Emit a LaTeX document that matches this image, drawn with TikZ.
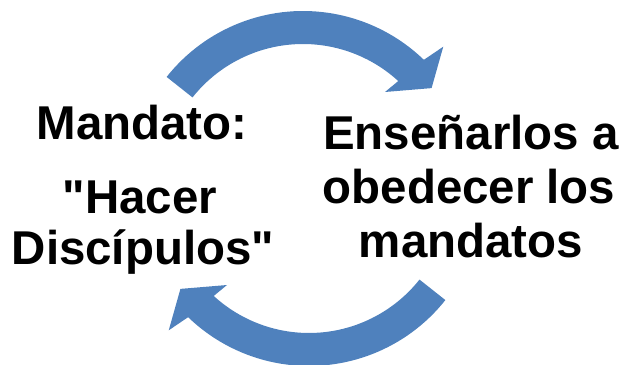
\documentclass[tikz,border=0pt]{standalone}
\usepackage{fontspec}
\setmainfont{Liberation Sans}
\usepackage{tikz}
\usetikzlibrary{positioning}
\definecolor{officeblue}{RGB}{79,129,189}
\tikzset{
      cyclearrow/.style = {fill=officeblue, draw=none},
      word node/.style  = {anchor=base, inner sep=0pt, font=\bfseries\fontsize{40.5}{46}\selectfont},
    }

\begin{document}
\begin{tikzpicture}[x=0.3mm,y=0.3mm]
        \useasboundingbox (0,0) rectangle (623,365);

        \foreach \cx/\cy/\rot in {303/180/0, 309/173/180}
            \fill[cyclearrow, shift={(\cx,\cy)}]
            (\rot+141.6:174) arc[start angle=\rot+141.6, end angle=\rot+46, radius=174]
            -- (\rot+44.6:197) -- (\rot+37:161) -- (\rot+48.6:124) -- (\rot+47.5:141)
            arc[start angle=\rot+47.5, end angle=\rot+141.6, radius=141] -- cycle;

        \node [word node] (mandato)    at (142,225) {Mandato:};
        \node [word node] (hacer)      at (140,151) {\textquotedbl Hacer};
        \node [word node] (discipulos) at (143,100) {Discípulos\textquotedbl};

        \node [word node] (ensenarlos) at (471,215) {Enseñarlos a};
        \node [word node] (obedecer)   at (469,161) {obedecer los};
        \node [word node] (mandatos)   at (471,107) {mandatos};
    \end{tikzpicture}
\end{document}
